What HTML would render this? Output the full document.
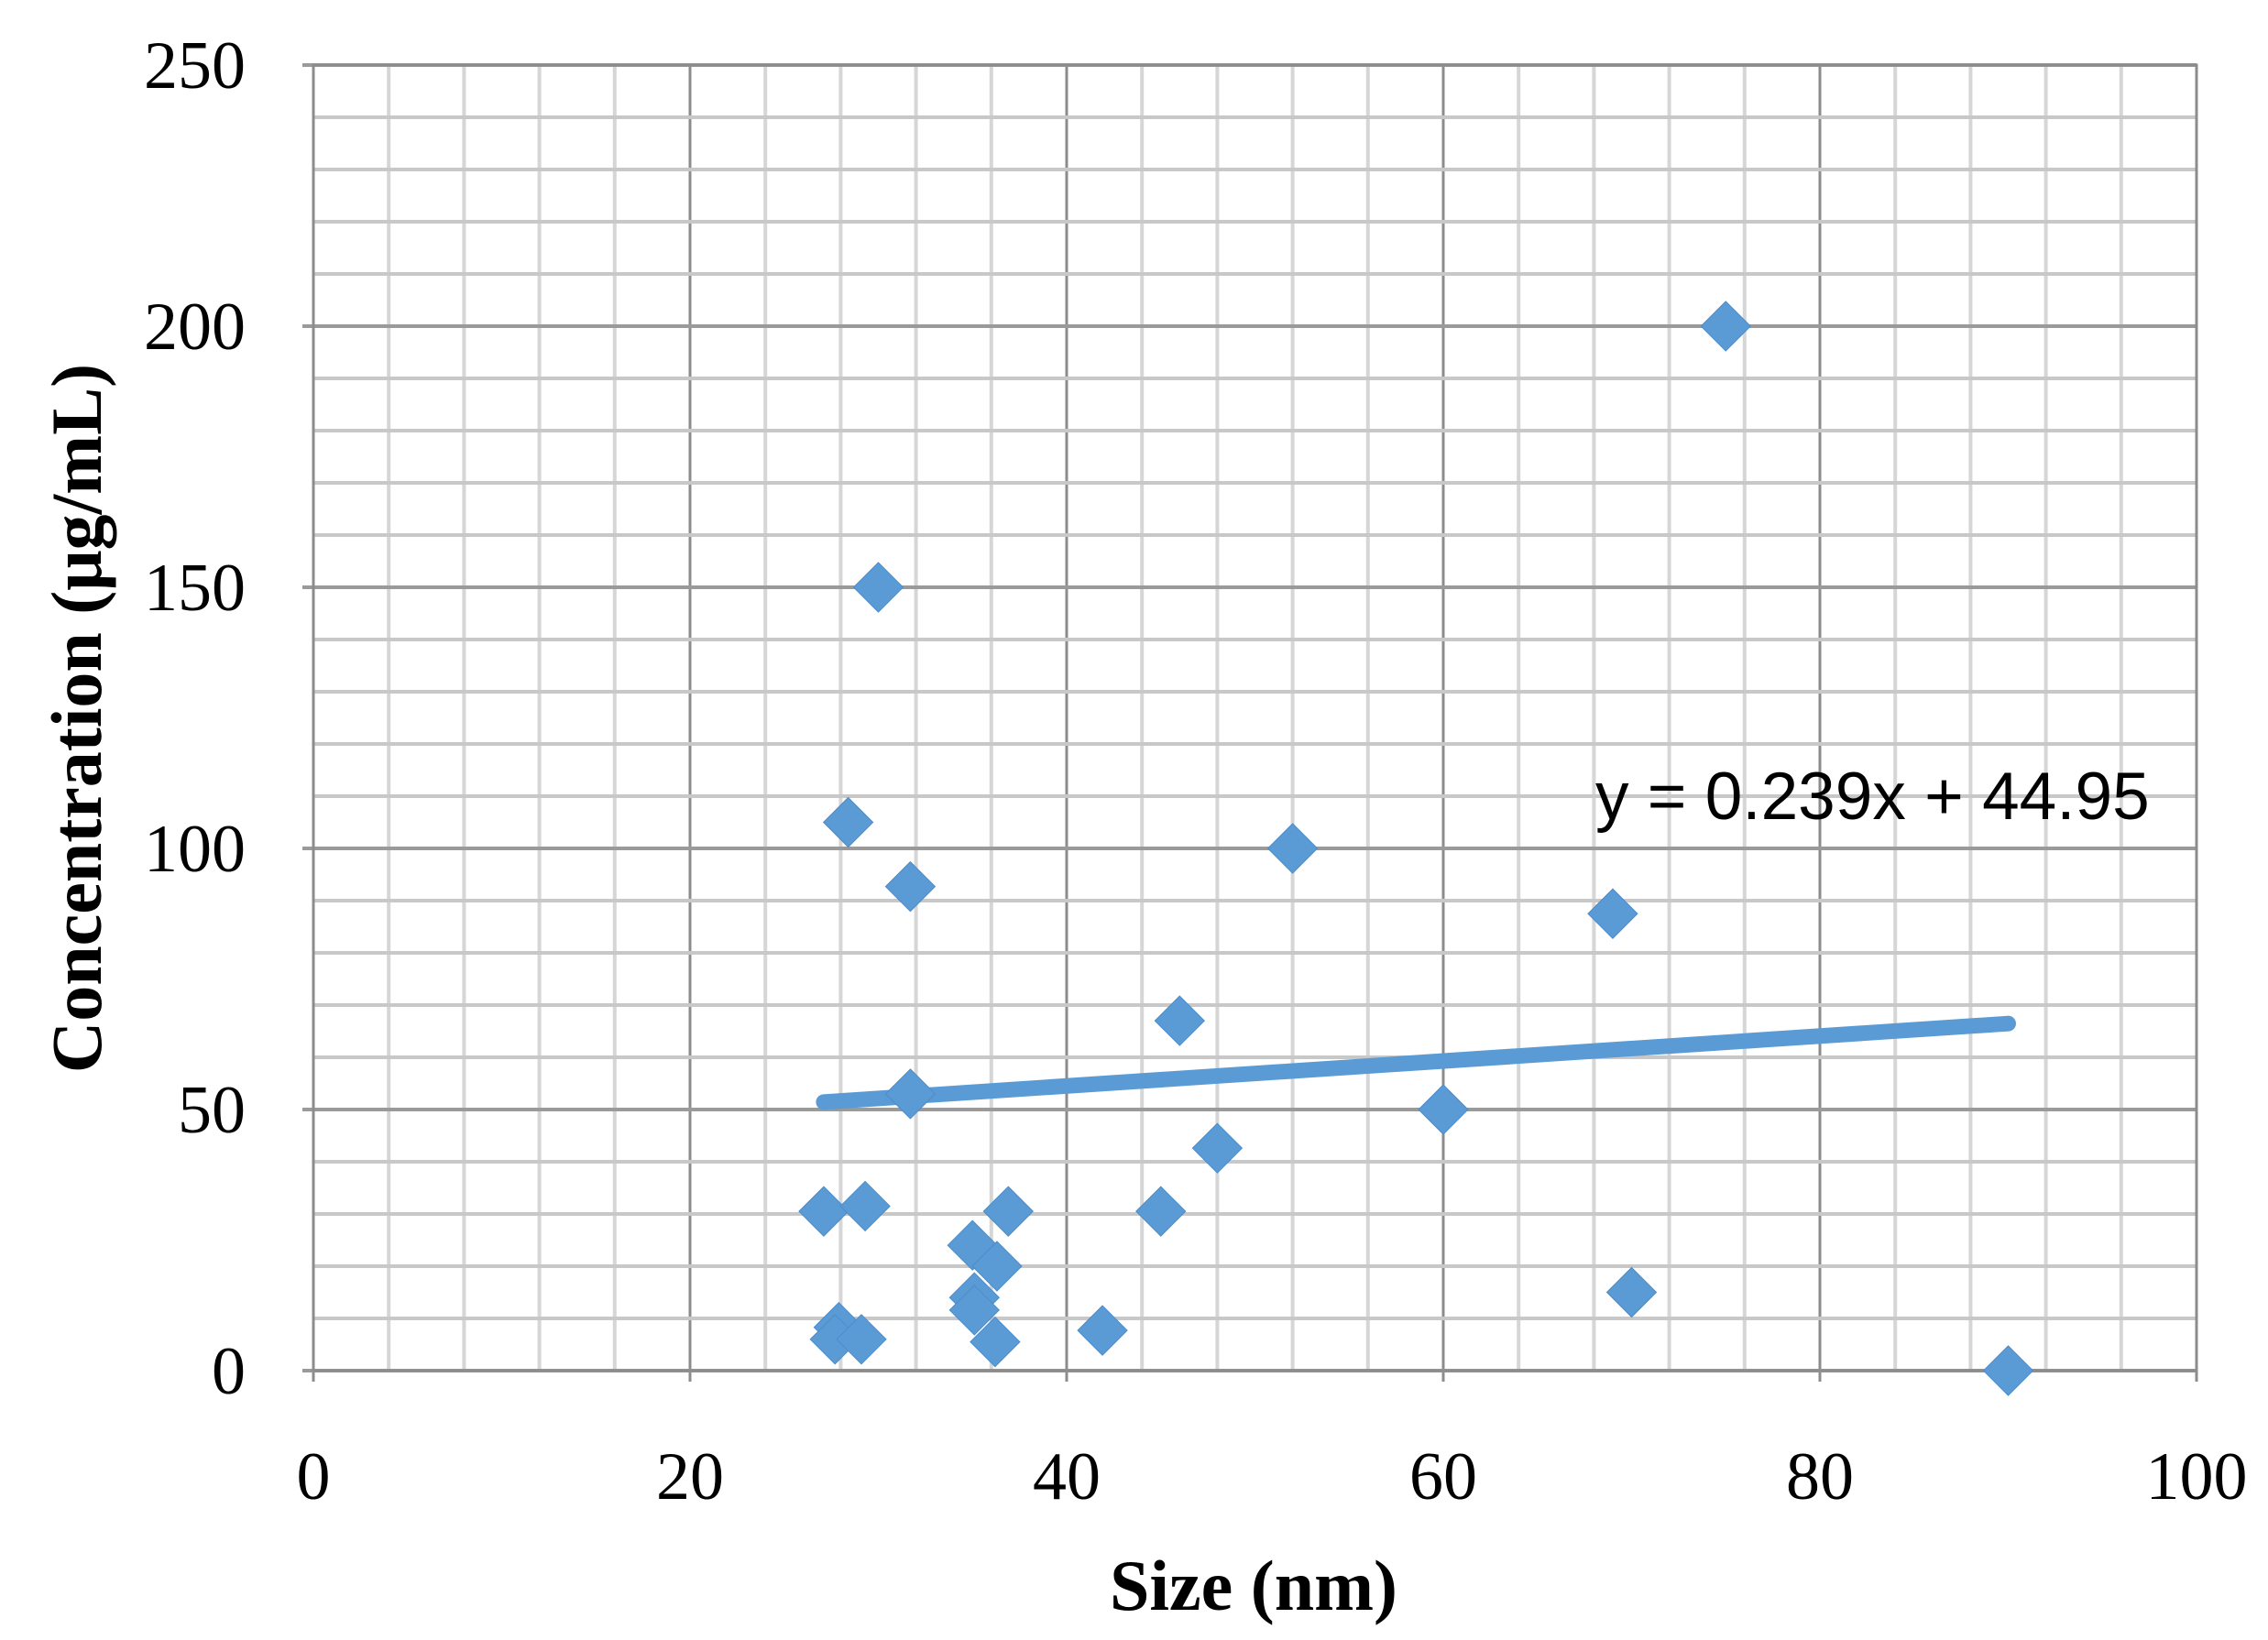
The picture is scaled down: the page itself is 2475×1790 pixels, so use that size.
<!DOCTYPE html>
<html><head><meta charset="utf-8"><style>
html,body{margin:0;padding:0;background:#fff}
svg{display:block}
</style></head><body>
<svg id="chart" width="2475" height="1790" viewBox="0 0 2475 1790" xmlns="http://www.w3.org/2000/svg">
<g id="grid"></g>
<g id="axes"></g>
<g id="trend"></g>
<g id="pts"></g>
<text x="1741" y="894" font-family="Liberation Sans, sans-serif" font-size="73" fill="#000">y = 0.239x + 44.95</text>
<text x="1368" y="1757" font-family="Liberation Serif, serif" font-size="78" font-weight="bold" text-anchor="middle" fill="#000">Size (nm)</text>
<text transform="translate(110,784) rotate(-90)" font-family="Liberation Serif, serif" font-size="78" font-weight="bold" text-anchor="middle" fill="#000">Concentration (μg/mL)</text>
</svg>
<script>
const xs = [27.1,27.9,27.7,29.1,28.4,30,29.3,31.7,31.7,35.0,35.1,35.1,36.2,36.3,36.9,41.9,45,46,48,52,60,69,70,75,90];
const ys = [30.5,8.3,6,6,105,150,31.5,92.7,53,24,14,11.6,5.5,20,30.5,7.7,30.5,67,42.6,100,50,87.5,15,200,0];
const xTicks = [0,20,40,60,80,100];
const yTicks = [0,50,100,150,200,250];
const slope = 0.239, intercept = 44.95;
const L=342,R=2397,T=71,B=1496;
const sx=v=>L+(v-0)/(100-0)*(R-L);
const sy=v=>B-(v-0)/(250-0)*(B-T);
const NS='http://www.w3.org/2000/svg';
function mk(tag,attrs,parent){const e=document.createElementNS(NS,tag);for(const k in attrs)e.setAttribute(k,attrs[k]);parent.appendChild(e);return e;}
const grid=document.getElementById('grid'),axes=document.getElementById('axes'),pts=document.getElementById('pts'),trend=document.getElementById('trend');
for(let v=0;v<=100;v+=4){const maj=v%20===0;
 const l=mk('line',{x1:sx(v),x2:sx(v),y1:T,y2:maj?B+12:B,stroke:maj?'#8c8c8c':'#d6d6d6','stroke-width':maj?3:4},grid);
 
 }
for(let v=0;v<=250;v+=10){const maj=v%50===0;
 const l=mk('line',{x1:maj?L-12:L,x2:R,y1:sy(v),y2:sy(v),stroke:maj?'#9a9a9a':'#c8c8c8','stroke-width':4},grid);
 
 }
const fr=mk('rect',{x:L,y:T,width:R-L,height:B-T,fill:'none',stroke:'#8c8c8c','stroke-width':3},axes);


xTicks.forEach(v=>{const t=mk('text',{x:sx(v),y:1636,'font-family':'Liberation Serif, serif','font-size':74,'text-anchor':'middle',fill:'#000'},axes);t.textContent=v;
 
 });
yTicks.forEach(v=>{const t=mk('text',{x:268,y:sy(v)+25,'font-family':'Liberation Serif, serif','font-size':74,'text-anchor':'end',fill:'#000'},axes);t.textContent=v;
 
 });
const xmin=Math.min(...xs),xmax=Math.max(...xs);
const tl=mk('line',{x1:sx(xmin),y1:sy(slope*xmin+intercept),x2:sx(xmax),y2:sy(slope*xmax+intercept),stroke:'#5b9bd5','stroke-width':17,'stroke-linecap':'round'},trend);


const h=27;
xs.forEach((x,i)=>{const cx=sx(x),cy=sy(ys[i]);
 const p=mk('polygon',{points:`${cx},${cy-h} ${cx+h},${cy} ${cx},${cy+h} ${cx-h},${cy}`,fill:'#5b9bd5',stroke:'#4a8ccc','stroke-width':1},pts);
 
 });
</script>
</body></html>
